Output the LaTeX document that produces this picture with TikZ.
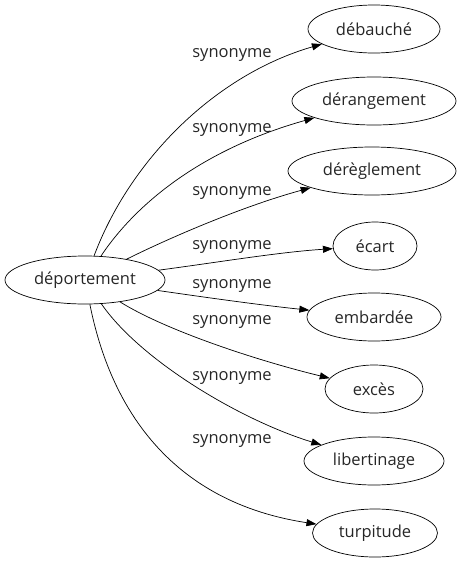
\documentclass[tikz,border=0pt]{standalone}
\usepackage{fontspec}
\setmainfont{Open Sans}
\usetikzlibrary{shapes.geometric,arrows.meta}
\begin{document}
\begin{tikzpicture}[x=1pt,y=-1pt,
  word/.style={draw,ellipse,line width=0.7pt,inner sep=0pt,minimum height=48pt,font=\fontsize{16.5}{19}\selectfont,text=black!85},
  lab/.style={inner sep=0pt,font=\fontsize{16.5}{19}\selectfont,text=black!85},
  arr/.style={line width=0.7pt,-{Triangle[length=10pt,width=7pt]}}]
\useasboundingbox (0,0) rectangle (464,563);
\node[word,minimum width=160pt] (dep) at (85,280) {déportement};
\node[word,minimum width=132pt] (deb) at (374,29) {débauché};
\node[word,minimum width=164pt] (der) at (374,101) {dérangement};
\node[word,minimum width=168pt] (dere) at (372,171) {dérèglement};
\node[word,minimum width=84pt] (eca) at (375,246) {écart};
\node[word,minimum width=134pt] (emb) at (374,317) {embardée};
\node[word,minimum width=98pt] (exc) at (374,389) {excès};
\node[word,minimum width=140pt] (lib) at (374,461) {libertinage};
\node[word,minimum width=125pt] (tur) at (375,533) {turpitude};
\node[lab] (l1) at (232,55) {synonyme};
\node[lab] (l2) at (232,130) {synonyme};
\node[lab] (l3) at (232,193) {synonyme};
\node[lab] (l4) at (232,247) {synonyme};
\node[lab] (l5) at (232,286) {synonyme};
\node[lab] (l6) at (232,322) {synonyme};
\node[lab] (l7) at (232,378) {synonyme};
\node[lab] (l8) at (232,441) {synonyme};
\draw[arr] (dep) .. controls (130,160) and (215,75) .. (deb);
\draw[arr] (dep) .. controls (135,205) and (200,150) .. (der);
\draw[arr] (dep) .. controls (165,240) and (240,207) .. (dere);
\draw[arr] (dep) .. controls (220,262) and (280,252) .. (eca);
\draw[arr] (dep) .. controls (210,298) and (260,305) .. (emb);
\draw[arr] (dep) .. controls (165,330) and (255,360) .. (exc);
\draw[arr] (dep) .. controls (140,360) and (240,420) .. (lib);
\draw[arr] (dep) .. controls (115,430) and (190,505) .. (tur);
\end{tikzpicture}
\end{document}
